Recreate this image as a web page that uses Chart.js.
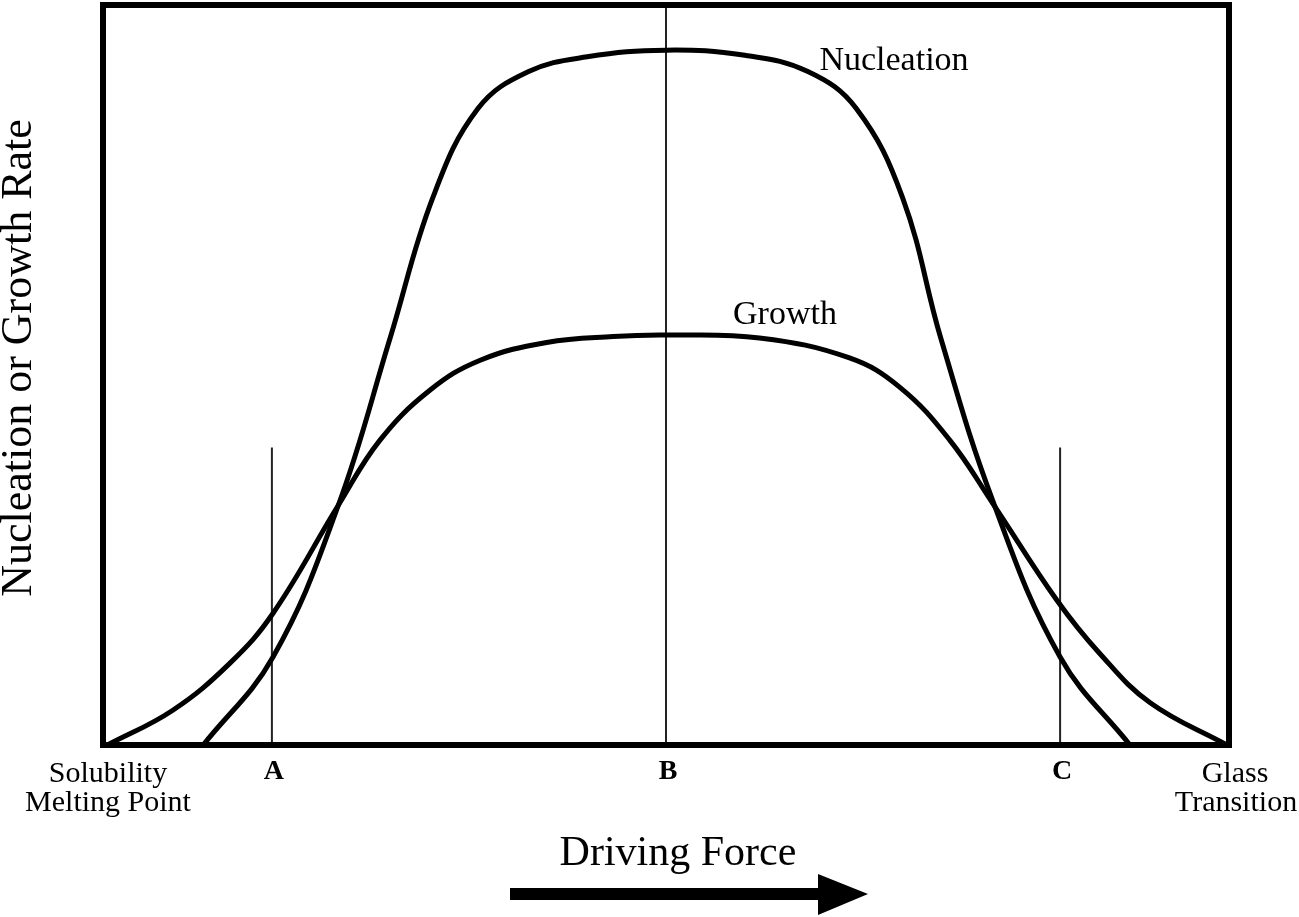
<!DOCTYPE html>
<html>
<head>
<meta charset="utf-8">
<script src="https://cdn.jsdelivr.net/npm/chart.js@4"></script>
<style>
  html, body { margin: 0; padding: 0; background: #fff; }
  #wrap { width: 1299px; height: 917px; }
</style>
</head>
<body>
<div id="wrap"><canvas id="myChart" width="1299" height="917"></canvas></div>
<script>
// driving force position (0 = solubility / melting point, 100 = glass transition)
const nucleationX = [8.9, 15.1, 20.9, 25.5, 29.3, 33.3, 37.8, 43.0, 50.0,
                     57.0, 62.6, 66.9, 71.0, 74.4, 79.0, 85.0, 91.2];
const nucleationY = [0, 11.9, 32.4, 55.0, 74.0, 86.0, 91.0, 93.0, 93.9,
                     93.2, 91.0, 86.0, 74.0, 55.0, 33.1, 11.9, 0];

const growthX = [0.4, 6.2, 11.3, 15.1, 20.9, 24.6, 29.0, 33.5, 39.4, 45.3, 50.0,
                 58.3, 66.3, 70.8, 75.2, 79.0, 84.7, 88.5, 93.0, 99.8];
const growthY = [0, 4.7, 11.1, 17.8, 32.4, 41.2, 47.9, 52.0, 54.4, 55.2, 55.4,
                 55.0, 52.3, 48.3, 41.2, 32.7, 19.6, 12.4, 5.7, 0];

// marker lines A, B, C
const markerLabels = ["A", "B", "C"];
const markerX = [15, 50, 85];
const markerTop = [40.2, 100, 40.2];

const toPoints = (xs, ys) => xs.map((x, i) => ({ x: x, y: ys[i] }));

const serif = '"Liberation Serif", "Times New Roman", serif';

const markerSets = markerX.map((x, i) => ({
  label: markerLabels[i],
  data: [{ x: x, y: 0 }, { x: x, y: markerTop[i] }],
  borderColor: "#222",
  borderWidth: 2,
  pointRadius: 0,
  tension: 0
}));

const decorations = {
  id: "decorations",
  afterDraw(chart) {
    const { ctx, chartArea: a, scales } = chart;
    ctx.save();
    // frame
    ctx.strokeStyle = "#000";
    ctx.lineWidth = 6;
    ctx.strokeRect(a.left, a.top, a.right - a.left, a.bottom - a.top);

    ctx.fillStyle = "#000";
    ctx.textAlign = "center";
    ctx.textBaseline = "middle";

    // curve labels
    ctx.font = "34px " + serif;
    ctx.fillText("Nucleation", 894, 61);
    ctx.fillText("Growth", 785, 315);

    // marker labels
    ctx.font = "bold 28px " + serif;
    markerX.forEach((x, i) => {
      ctx.fillText(markerLabels[i], scales.x.getPixelForValue(x) + 2, 772);
    });

    // end labels
    ctx.font = "30px " + serif;
    ctx.fillText("Solubility", 108, 774);
    ctx.fillText("Melting Point", 108, 803);
    ctx.fillText("Glass", 1235, 774);
    ctx.fillText("Transition", 1236, 803);

    // x title + arrow
    ctx.font = "42px " + serif;
    ctx.fillText("Driving Force", 678, 854);
    ctx.fillRect(510, 888, 312, 12);
    ctx.beginPath();
    ctx.moveTo(818, 874);
    ctx.lineTo(868, 894);
    ctx.lineTo(818, 915);
    ctx.closePath();
    ctx.fill();

    // y title
    ctx.translate(19, 358);
    ctx.rotate(-Math.PI / 2);
    ctx.font = "44px " + serif;
    ctx.fillText("Nucleation or Growth Rate", 0, 0);
    ctx.restore();
  }
};

const ctx = document.getElementById("myChart");

new Chart(ctx, {
  type: "line",
  data: {
    datasets: [
      {
        label: "Nucleation",
        data: toPoints(nucleationX, nucleationY),
        borderColor: "#000",
        borderWidth: 5,
        pointRadius: 0,
        tension: 0.4
      },
      {
        label: "Growth",
        data: toPoints(growthX, growthY),
        borderColor: "#000",
        borderWidth: 5,
        pointRadius: 0,
        tension: 0.4
      },
      ...markerSets
    ]
  },
  options: {
    responsive: false,
    animation: false,
    layout: { padding: { left: 103, right: 70, top: 5, bottom: 172 } },
    plugins: {
      legend: { display: false },
      tooltip: { enabled: false }
    },
    scales: {
      x: { type: "linear", min: 0, max: 100, display: false },
      y: { min: 0, max: 100, display: false }
    }
  },
  plugins: [decorations]
});
</script>
</body>
</html>
